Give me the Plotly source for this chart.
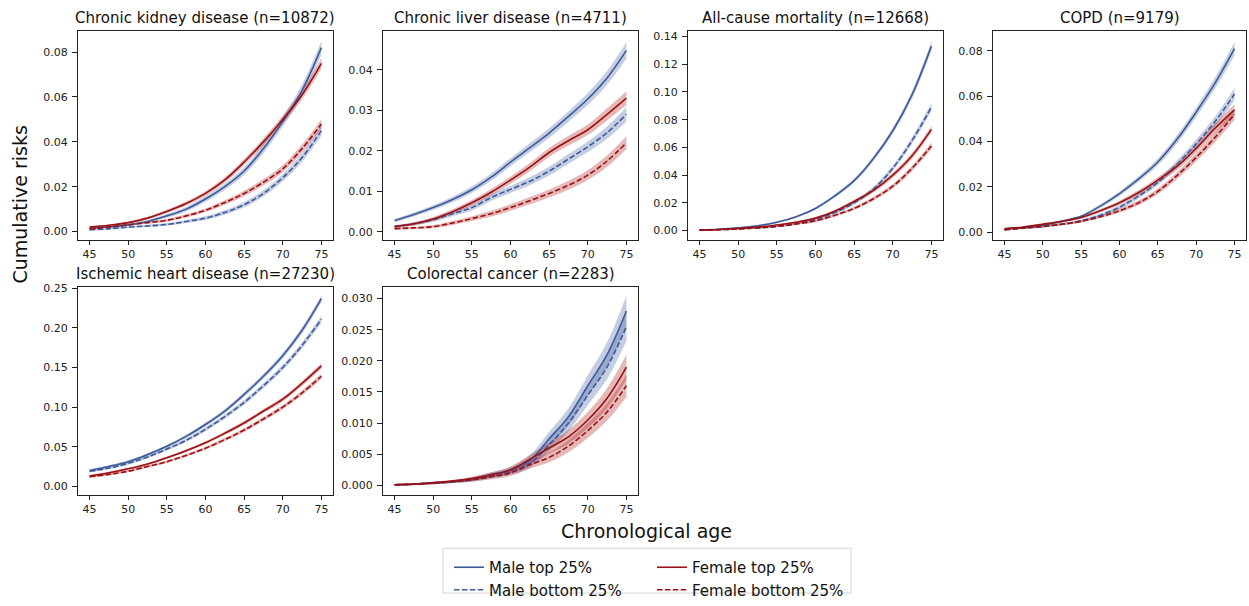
import plotly.graph_objects as go

W, H = 1249, 606

ages = [45, 47.5, 50, 52.5, 55, 57.5, 60, 62.5, 65, 67.5, 70, 72.5, 75]

titles = ["Chronic kidney disease (n=10872)", "Chronic liver disease (n=4711)",
          "All-cause mortality (n=12668)", "COPD (n=9179)",
          "Ischemic heart disease (n=27230)", "Colorectal cancer (n=2283)"]

series_names = ["Male top 25%", "Male bottom 25%", "Female top 25%", "Female bottom 25%"]

# ---- Chronic kidney disease ----
ckd_mt = [0.0015, 0.002, 0.003, 0.0045, 0.007, 0.010, 0.0145, 0.020, 0.027, 0.037, 0.049, 0.063, 0.082]
ckd_mb = [0.0008, 0.0012, 0.002, 0.0025, 0.0032, 0.0045, 0.006, 0.0085, 0.012, 0.017, 0.024, 0.033, 0.045]
ckd_ft = [0.002, 0.0028, 0.004, 0.006, 0.009, 0.0125, 0.017, 0.023, 0.031, 0.040, 0.050, 0.061, 0.075]
ckd_fb = [0.0012, 0.002, 0.003, 0.004, 0.005, 0.007, 0.0095, 0.013, 0.017, 0.022, 0.028, 0.037, 0.048]
ckd_mt_ci = [0.0004, 0.0004, 0.0005, 0.0006, 0.0008, 0.001, 0.0012, 0.0014, 0.0017, 0.002, 0.0022, 0.0026, 0.003]
ckd_mb_ci = [0.0003, 0.0003, 0.0004, 0.0005, 0.0006, 0.0007, 0.0008, 0.001, 0.0012, 0.0014, 0.0016, 0.0019, 0.0022]
ckd_ft_ci = [0.0004, 0.0004, 0.0005, 0.0006, 0.0007, 0.0009, 0.001, 0.0012, 0.0014, 0.0016, 0.0018, 0.002, 0.0024]
ckd_fb_ci = [0.0003, 0.0003, 0.0004, 0.0005, 0.0006, 0.0007, 0.0008, 0.001, 0.0012, 0.0014, 0.0016, 0.0018, 0.0021]

# ---- Chronic liver disease ----
liv_mt = [0.0028, 0.0043, 0.006, 0.008, 0.0104, 0.0135, 0.0172, 0.0208, 0.0244, 0.0285, 0.0328, 0.038, 0.0448]
liv_mb = [0.0013, 0.002, 0.003, 0.0045, 0.006, 0.0085, 0.0105, 0.0125, 0.015, 0.018, 0.021, 0.0245, 0.029]
liv_ft = [0.0013, 0.002, 0.0032, 0.005, 0.0072, 0.0098, 0.0128, 0.016, 0.0196, 0.0225, 0.0252, 0.029, 0.033]
liv_fb = [0.0008, 0.001, 0.0013, 0.0022, 0.0033, 0.0045, 0.006, 0.0077, 0.0095, 0.0115, 0.014, 0.0175, 0.022]
liv_mt_ci = [0.0004, 0.0005, 0.0006, 0.0007, 0.0008, 0.0009, 0.001, 0.0011, 0.0012, 0.0013, 0.0015, 0.0017, 0.002]
liv_mb_ci = [0.0003, 0.0004, 0.0005, 0.0006, 0.0007, 0.0008, 0.0009, 0.001, 0.0011, 0.0012, 0.0013, 0.0015, 0.0018]
liv_ft_ci = [0.0003, 0.0004, 0.0005, 0.0006, 0.0007, 0.0008, 0.0009, 0.001, 0.0011, 0.0012, 0.0013, 0.0015, 0.0017]
liv_fb_ci = [0.0003, 0.0003, 0.0004, 0.0005, 0.0006, 0.0007, 0.0008, 0.0009, 0.001, 0.0011, 0.0012, 0.0014, 0.0016]

# ---- All-cause mortality ----
mor_mt = [0.0005, 0.001, 0.002, 0.0035, 0.006, 0.010, 0.016, 0.025, 0.036, 0.052, 0.072, 0.098, 0.133]
mor_mb = [0.0003, 0.0007, 0.0012, 0.002, 0.003, 0.005, 0.008, 0.013, 0.020, 0.030, 0.045, 0.065, 0.089]
mor_ft = [0.0004, 0.0008, 0.0015, 0.0025, 0.004, 0.006, 0.009, 0.014, 0.021, 0.029, 0.040, 0.054, 0.073]
mor_fb = [0.0003, 0.0007, 0.0012, 0.002, 0.003, 0.0048, 0.007, 0.011, 0.016, 0.023, 0.032, 0.045, 0.061]
mor_mt_ci = [0.0003, 0.0003, 0.0004, 0.0005, 0.0007, 0.0008, 0.001, 0.0012, 0.0015, 0.0018, 0.0022, 0.0027, 0.0033]
mor_mb_ci = [0.0003, 0.0003, 0.0004, 0.0005, 0.0006, 0.0007, 0.0009, 0.0011, 0.0013, 0.0016, 0.002, 0.0024, 0.003]
mor_ft_ci = [0.0003, 0.0003, 0.0004, 0.0005, 0.0006, 0.0007, 0.0009, 0.0011, 0.0013, 0.0015, 0.0018, 0.0021, 0.0025]
mor_fb_ci = [0.0003, 0.0003, 0.0004, 0.0005, 0.0006, 0.0007, 0.0008, 0.001, 0.0012, 0.0014, 0.0017, 0.002, 0.0024]

# ---- COPD ----
cop_mt = [0.0015, 0.002, 0.003, 0.0048, 0.007, 0.0115, 0.017, 0.0235, 0.031, 0.041, 0.053, 0.066, 0.081]
cop_mb = [0.0012, 0.0018, 0.0025, 0.0035, 0.005, 0.0075, 0.011, 0.016, 0.022, 0.030, 0.039, 0.049, 0.061]
cop_ft = [0.0015, 0.0023, 0.0035, 0.0048, 0.0065, 0.0095, 0.013, 0.0175, 0.023, 0.029, 0.037, 0.046, 0.054]
cop_fb = [0.001, 0.0018, 0.0025, 0.0035, 0.0048, 0.0068, 0.0095, 0.013, 0.018, 0.025, 0.033, 0.042, 0.052]
cop_mt_ci = [0.0003, 0.0003, 0.0004, 0.0005, 0.0006, 0.0008, 0.001, 0.0012, 0.0015, 0.0018, 0.0021, 0.0025, 0.003]
cop_mb_ci = [0.0003, 0.0003, 0.0004, 0.0005, 0.0006, 0.0007, 0.0009, 0.0011, 0.0013, 0.0016, 0.0019, 0.0022, 0.0027]
cop_ft_ci = [0.0003, 0.0003, 0.0004, 0.0005, 0.0006, 0.0007, 0.0009, 0.0011, 0.0013, 0.0015, 0.0018, 0.0021, 0.0025]
cop_fb_ci = [0.0003, 0.0003, 0.0004, 0.0005, 0.0006, 0.0007, 0.0009, 0.0011, 0.0013, 0.0015, 0.0018, 0.0021, 0.0025]

# ---- Ischemic heart disease ----
ihd_mt = [0.020, 0.025, 0.031, 0.040, 0.0505, 0.063, 0.078, 0.095, 0.116, 0.139, 0.165, 0.197, 0.237]
ihd_mb = [0.019, 0.023, 0.029, 0.037, 0.047, 0.058, 0.072, 0.088, 0.106, 0.127, 0.150, 0.178, 0.211]
ihd_ft = [0.013, 0.017, 0.022, 0.028, 0.036, 0.045, 0.055, 0.067, 0.080, 0.095, 0.110, 0.130, 0.152]
ihd_fb = [0.012, 0.015, 0.019, 0.025, 0.031, 0.039, 0.048, 0.059, 0.071, 0.085, 0.100, 0.118, 0.139]
ihd_mt_ci = [0.0015, 0.0016, 0.0017, 0.0018, 0.002, 0.0022, 0.0024, 0.0027, 0.003, 0.0033, 0.0036, 0.004, 0.0045]
ihd_mb_ci = [0.0015, 0.0016, 0.0017, 0.0018, 0.002, 0.0022, 0.0024, 0.0027, 0.003, 0.0033, 0.0036, 0.004, 0.0045]
ihd_ft_ci = [0.0012, 0.0013, 0.0014, 0.0015, 0.0016, 0.0018, 0.002, 0.0022, 0.0024, 0.0026, 0.0028, 0.003, 0.0034]
ihd_fb_ci = [0.0012, 0.0013, 0.0014, 0.0015, 0.0016, 0.0018, 0.002, 0.0022, 0.0024, 0.0026, 0.0028, 0.003, 0.0034]

# ---- Colorectal cancer ----
crc_mt = [0.0001, 0.0002, 0.0004, 0.0006, 0.001, 0.0017, 0.0025, 0.004, 0.0075, 0.011, 0.016, 0.021, 0.028]
crc_mb = [0.0001, 0.0002, 0.0004, 0.0006, 0.0009, 0.0015, 0.0022, 0.0035, 0.0065, 0.010, 0.0145, 0.019, 0.0255]
crc_ft = [0.0001, 0.0002, 0.0004, 0.0007, 0.0011, 0.0017, 0.0025, 0.0042, 0.006, 0.0078, 0.0105, 0.014, 0.019]
crc_fb = [0.0001, 0.0002, 0.0004, 0.0006, 0.0009, 0.0014, 0.002, 0.0033, 0.0045, 0.0063, 0.0088, 0.0118, 0.016]
crc_mt_ci = [0.0001, 0.0001, 0.0002, 0.0002, 0.0003, 0.0004, 0.0005, 0.0008, 0.0011, 0.0014, 0.0017, 0.002, 0.0025]
crc_mb_ci = [0.0001, 0.0001, 0.0002, 0.0002, 0.0003, 0.0004, 0.0005, 0.0007, 0.001, 0.0013, 0.0016, 0.0019, 0.0023]
crc_ft_ci = [0.0001, 0.0001, 0.0002, 0.0002, 0.0003, 0.0004, 0.0005, 0.0007, 0.0009, 0.0011, 0.0013, 0.0016, 0.002]
crc_fb_ci = [0.0001, 0.0001, 0.0002, 0.0002, 0.0003, 0.0004, 0.0005, 0.0006, 0.0008, 0.001, 0.0012, 0.0014, 0.0018]

panel_data = [
    ([ckd_mt, ckd_mb, ckd_ft, ckd_fb], [ckd_mt_ci, ckd_mb_ci, ckd_ft_ci, ckd_fb_ci]),
    ([liv_mt, liv_mb, liv_ft, liv_fb], [liv_mt_ci, liv_mb_ci, liv_ft_ci, liv_fb_ci]),
    ([mor_mt, mor_mb, mor_ft, mor_fb], [mor_mt_ci, mor_mb_ci, mor_ft_ci, mor_fb_ci]),
    ([cop_mt, cop_mb, cop_ft, cop_fb], [cop_mt_ci, cop_mb_ci, cop_ft_ci, cop_fb_ci]),
    ([ihd_mt, ihd_mb, ihd_ft, ihd_fb], [ihd_mt_ci, ihd_mb_ci, ihd_ft_ci, ihd_fb_ci]),
    ([crc_mt, crc_mb, crc_ft, crc_fb], [crc_mt_ci, crc_mb_ci, crc_ft_ci, crc_fb_ci]),
]

# layout (pixel boxes of each axes: left, right, top, bottom)
boxes = [(78, 333, 27, 241), (383, 638, 27, 241), (688, 943, 27, 241), (993, 1246, 27, 241),
         (78, 333, 290, 503), (383, 638, 290, 503)]
yranges = [(-0.0036, 0.0893), (-0.0019, 0.0495), (-0.0065, 0.1437), (-0.0033, 0.0887),
           (-0.0107, 0.2513), (-0.0015, 0.0318)]
ydticks = [0.02, 0.01, 0.02, 0.02, 0.05, 0.005]
yfmts = [".2f", ".2f", ".2f", ".2f", ".2f", ".3f"]

BLUE = "#3b5a9a"
RED = "#9c0f12"
BLUE_F = "rgba(59,90,154,0.30)"
RED_F = "rgba(170,20,20,0.30)"
colors = [BLUE, BLUE, RED, RED]
fills = [BLUE_F, BLUE_F, RED_F, RED_F]
dashes = ["solid", "5.5px,2.4px", "solid", "5.5px,2.4px"]
legends = ["legend", "legend", "legend2", "legend2"]
ranks = [1, 2, 1, 2]

FONT = "DejaVu Sans"
fig = go.Figure()
layout = {}

for p, (vals, cis) in enumerate(panel_data):
    k = p + 1
    xa = "x" if k == 1 else f"x{k}"
    ya = "y" if k == 1 else f"y{k}"
    # bands first
    for s in range(4):
        up = [v + c for v, c in zip(vals[s], cis[s])]
        lo = [v - c for v, c in zip(vals[s], cis[s])]
        fig.add_trace(go.Scatter(x=ages, y=up, mode="lines", line=dict(width=0, shape="spline"),
                                 xaxis=xa, yaxis=ya, showlegend=False, hoverinfo="skip"))
        fig.add_trace(go.Scatter(x=ages, y=lo, mode="lines", line=dict(width=0, shape="spline"),
                                 fill="tonexty", fillcolor=fills[s],
                                 xaxis=xa, yaxis=ya, showlegend=False, hoverinfo="skip"))
    for s in range(4):
        fig.add_trace(go.Scatter(x=ages, y=vals[s], mode="lines", name=series_names[s],
                                 line=dict(color=colors[s], width=1.6, dash=dashes[s], shape="spline"),
                                 xaxis=xa, yaxis=ya, showlegend=(p == 0), legend=legends[s],
                                 legendrank=ranks[s]))
    l, r, t, b = boxes[p]
    xkey = "xaxis" if k == 1 else f"xaxis{k}"
    ykey = "yaxis" if k == 1 else f"yaxis{k}"
    layout[xkey] = dict(domain=[l / W, r / W], anchor=ya, range=[43.5, 76.5],
                        tickmode="linear", tick0=45, dtick=5, ticks="outside", ticklen=4,
                        tickcolor="#222", showline=True, mirror=True, linecolor="#222", linewidth=1,
                        showgrid=False, zeroline=False,
                        tickfont=dict(family=FONT, size=11, color="#222"))
    layout[ykey] = dict(domain=[1 - b / H, 1 - t / H], anchor=xa, range=list(yranges[p]),
                        tickmode="linear", tick0=0, dtick=ydticks[p], tickformat=yfmts[p],
                        ticks="outside", ticklen=5, tickcolor="#222",
                        showline=True, mirror=True, linecolor="#222", linewidth=1,
                        showgrid=False, zeroline=False, ticklabelstandoff=2,
                        tickfont=dict(family=FONT, size=11, color="#222"))

annotations = []
for p, title in enumerate(titles):
    l, r, t, b = boxes[p]
    annotations.append(dict(text=title, x=(l + r) / 2 / W, y=1 - (t - 2) / H, xref="paper", yref="paper",
                            xanchor="center", yanchor="bottom", showarrow=False,
                            font=dict(family=FONT, size=15, color="#111")))
annotations.append(dict(text="Chronological age", x=646 / W, y=1 - 540 / H, xref="paper", yref="paper",
                        xanchor="center", yanchor="middle", showarrow=False,
                        font=dict(family=FONT, size=19, color="#111")))
annotations.append(dict(text="Cumulative risks", x=20 / W, y=1 - 205 / H, xref="paper", yref="paper",
                        xanchor="center", yanchor="middle", showarrow=False, textangle=-90,
                        font=dict(family=FONT, size=19, color="#111")))

shapes = [dict(type="rect", xref="paper", yref="paper", x0=443 / W, x1=851 / W,
               y0=1 - 604 / H, y1=1 - 558 / H, line=dict(color="#d4d4d4", width=1),
               fillcolor="rgba(255,255,255,0.8)", layer="below")]

leg_common = dict(font=dict(family=FONT, size=15, color="#111"), bgcolor="rgba(0,0,0,0)",
                  borderwidth=0, orientation="v", xanchor="left", yanchor="top",
                  tracegroupgap=0, itemwidth=30, traceorder="normal")

fig.update_layout(
    width=W, height=H, margin=dict(l=0, r=0, t=0, b=0),
    paper_bgcolor="white", plot_bgcolor="white",
    font=dict(family=FONT),
    annotations=annotations, shapes=shapes,
    legend=dict(x=449 / W, y=1 - 561 / H, **leg_common),
    legend2=dict(x=652 / W, y=1 - 561 / H, **leg_common),
    **layout,
)

fig.write_html("out.html")
